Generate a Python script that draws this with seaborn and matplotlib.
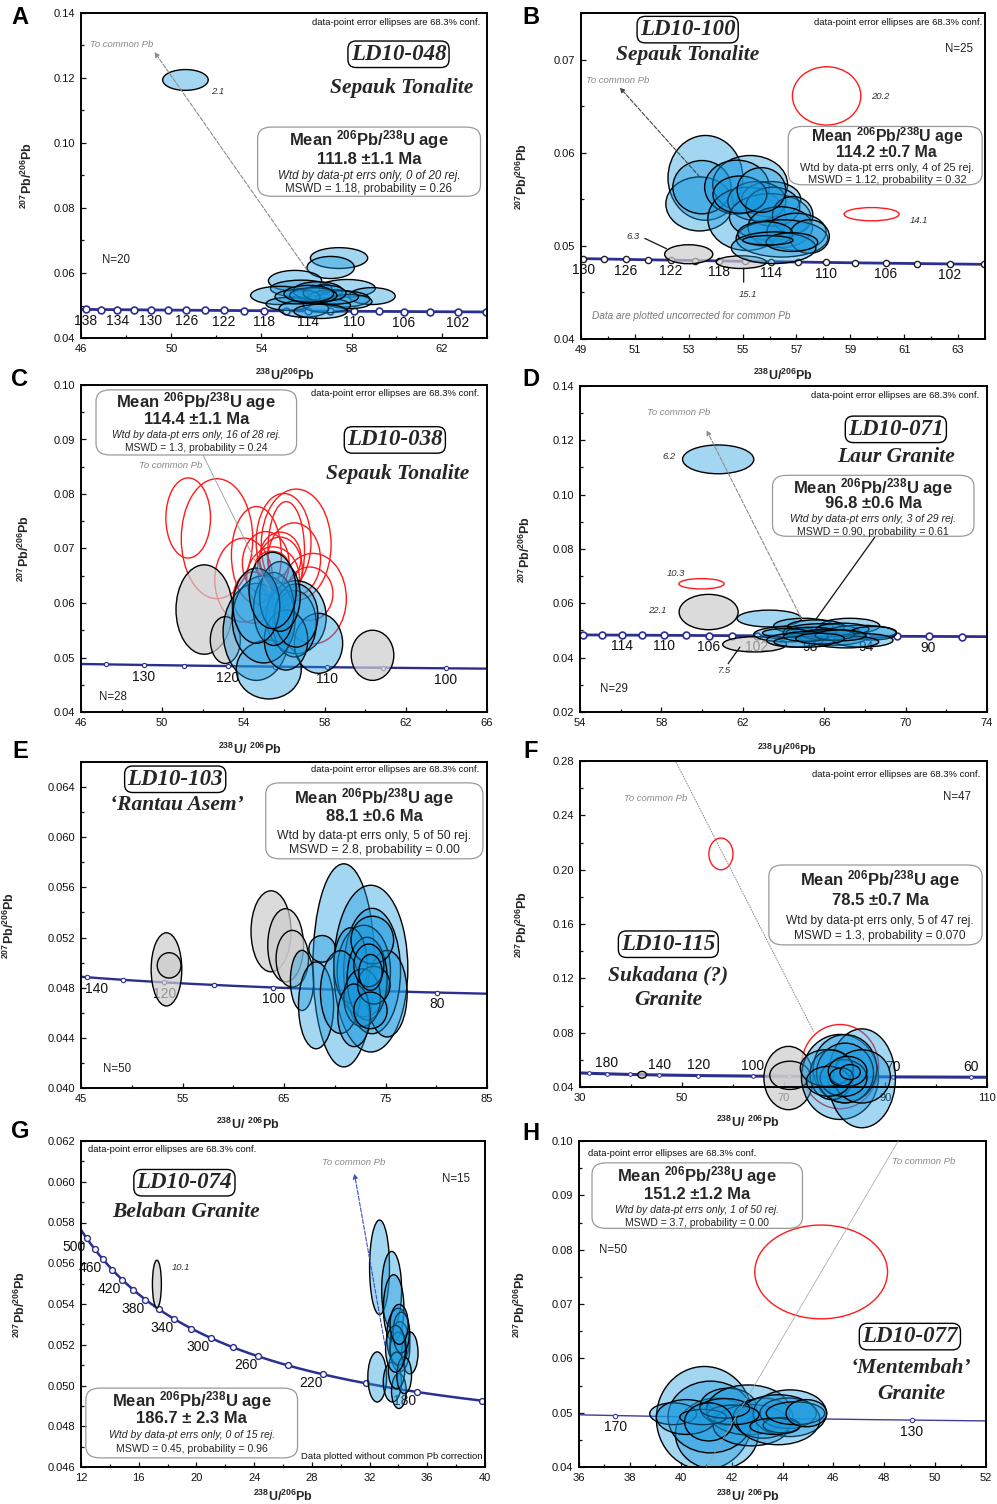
import numpy as np
import matplotlib
matplotlib.use("Agg")
import matplotlib.pyplot as plt
import seaborn as sns
from matplotlib.patches import Ellipse, FancyBboxPatch
from matplotlib.ticker import FixedLocator, FormatStrFormatter

sns.set_theme(style="ticks")
plt.rcParams["font.family"] = ["Liberation Sans", "DejaVu Sans"]
plt.rcParams["mathtext.fontset"] = "custom"
plt.rcParams["mathtext.rm"] = "Liberation Sans"
plt.rcParams["mathtext.bf"] = "Liberation Sans:bold"
plt.rcParams["mathtext.it"] = "Liberation Sans:italic"
plt.rcParams["axes.linewidth"] = 1.3

# ------------------------------------------------------------------ data
# kind: b = accepted (blue), g = rejected (grey), r = rejected (red outline)
A_kind = list("bbbbbbbbbbbbbbbbbbbb")
A_cx = [50.63, 57.44, 57.07, 55.49, 57.80, 55.76, 54.81, 58.90, 56.50, 57.60,
        55.20, 57.90, 56.90, 55.88, 56.62, 57.20, 55.60, 56.80, 56.30, 56.10]
A_cy = [0.1194, 0.0646, 0.0617, 0.0576, 0.0553, 0.0552, 0.0531, 0.0529, 0.0545, 0.0520,
        0.0505, 0.0512, 0.0500, 0.0490, 0.0482, 0.0526, 0.0527, 0.0538, 0.0531, 0.0536]
A_ex = [1.01, 1.27, 1.05, 1.18, 1.25, 1.36, 1.29, 1.03, 1.10, 1.20,
        1.00, 1.00, 1.05, 1.10, 1.18, 1.10, 1.00, 0.95, 1.05, 1.10]
A_ey = [0.0032, 0.0032, 0.0034, 0.0032, 0.0027, 0.0026, 0.0028, 0.0026, 0.0028, 0.0025,
        0.0020, 0.0022, 0.0022, 0.0026, 0.0022, 0.0022, 0.0022, 0.0025, 0.0024, 0.0026]

B_kind = list("rrgg") + list("b" * 21)
B_cx = [58.12, 59.79, 53.00, 54.95,
        53.62, 53.40, 53.49, 55.28, 54.79, 55.16, 56.06, 55.53, 56.02, 56.12, 56.86,
        54.90, 56.40, 55.70, 57.00, 56.46, 57.48, 55.84, 56.15, 56.83, 55.94]
B_cy = [0.0661, 0.0534, 0.0491, 0.04825,
        0.0573, 0.0545, 0.0563, 0.0566, 0.0563, 0.0529, 0.0550, 0.0548, 0.0531, 0.0542, 0.0533,
        0.0555, 0.0520, 0.0560, 0.0515, 0.0508, 0.0510, 0.0513, 0.0498, 0.0504, 0.0506]
B_ex = [1.27, 1.02, 0.895, 0.93,
        1.39, 1.25, 1.08, 1.39, 1.20, 1.45, 1.10, 1.08, 1.51, 1.00, 0.75,
        1.00, 1.20, 0.90, 1.10, 1.70, 0.74, 1.02, 1.57, 0.96, 0.93]
B_ey = [0.00313, 0.00071, 0.00102, 0.00068,
        0.00455, 0.0029, 0.00286, 0.0031, 0.0029, 0.0034, 0.0019, 0.0021, 0.0025, 0.0021, 0.0020,
        0.0020, 0.0022, 0.0024, 0.0020, 0.0020, 0.0018, 0.0013, 0.0017, 0.0010, 0.0005]

C_kind = list("r" * 16) + list("ggg") + list("b" * 12)
C_cx = [51.28, 52.70, 54.02, 54.64, 55.98, 56.60, 56.11, 55.82, 55.80, 57.43, 57.26, 54.48,
        55.46, 55.10, 56.50, 55.40,
        52.07, 53.11, 60.36,
        54.64, 55.25, 56.60, 57.70, 56.52, 55.00, 56.10, 56.60, 55.50, 55.80, 54.64, 55.44]
C_cy = [0.0756, 0.0718, 0.0642, 0.0688, 0.0712, 0.0707, 0.0696, 0.0683, 0.0663, 0.0608, 0.0617, 0.0610,
        0.0645, 0.0673, 0.0680, 0.0670,
        0.0588, 0.0532, 0.0504,
        0.0547, 0.0478, 0.0574, 0.0526, 0.0562, 0.0570, 0.0532, 0.0577, 0.0589, 0.0612, 0.0595, 0.0623]
C_ex = [1.10, 1.76, 1.43, 1.23, 1.35, 1.72, 0.90, 1.02, 1.10, 1.64, 1.15, 0.98,
        1.30, 1.15, 1.30, 0.82,
        1.39, 0.74, 1.05,
        1.64, 1.60, 1.48, 1.19, 1.07, 1.55, 1.07, 1.07, 1.00, 1.00, 1.15, 1.16]
C_ey = [0.00735, 0.0110, 0.0077, 0.0089, 0.0089, 0.0102, 0.0090, 0.0047, 0.0058, 0.0083, 0.0049, 0.0047,
        0.0058, 0.0058, 0.0067, 0.0025,
        0.0082, 0.0043, 0.0046,
        0.0089, 0.0054, 0.0067, 0.0055, 0.0061, 0.0080, 0.0055, 0.0058, 0.0067, 0.0064, 0.0069, 0.0070]

D_kind = list("rgg") + list("b" * 21)
D_cx = [59.97, 60.32, 62.58,
        60.79, 63.30, 64.98, 67.26, 65.60, 64.16, 65.87, 67.83, 66.90, 68.40, 65.37,
        64.12, 66.44, 67.91, 64.56, 67.08, 65.00, 66.20, 65.10, 66.80, 65.80]
D_cy = [0.0672, 0.0568, 0.0449,
        0.1130, 0.0544, 0.0517, 0.0517, 0.0514, 0.0486, 0.0494, 0.0494, 0.0505, 0.0490, 0.0494,
        0.0491, 0.0474, 0.0464, 0.0464, 0.0458, 0.0458, 0.0485, 0.0478, 0.0482, 0.0470]
D_ex = [1.11, 1.45, 1.57,
        1.75, 1.58, 1.46, 1.47, 1.40, 1.62, 1.88, 1.72, 1.30, 1.15, 1.23,
        1.15, 1.64, 1.47, 1.39, 1.60, 1.47, 1.30, 1.10, 1.25, 1.20]
D_ey = [0.0019, 0.0065, 0.0028,
        0.0053, 0.0031, 0.0028, 0.0028, 0.0025, 0.0028, 0.0031, 0.0025, 0.0022, 0.0025, 0.0018,
        0.0016, 0.0028, 0.0025, 0.0025, 0.0022, 0.0020, 0.0020, 0.0018, 0.0020, 0.0020]

E_kind = list("ggggg") + list("b" * 18)
E_cx = [53.42, 53.68, 63.72, 65.16, 65.82,
        66.78, 70.89, 73.55, 68.16, 68.75, 73.68, 72.86, 71.55, 70.56, 75.16, 73.19,
        72.70, 71.90, 73.70, 73.85, 73.36, 73.52, 73.52]
E_cy = [0.04946, 0.04978, 0.05250, 0.05138, 0.05031,
        0.04858, 0.04978, 0.04952, 0.04659, 0.05110, 0.04933, 0.04933, 0.04978, 0.04765, 0.04752, 0.04872,
        0.04720, 0.04580, 0.05180, 0.04820, 0.04978, 0.04922, 0.04619]
E_ex = [1.51, 1.17, 1.97, 1.76, 1.60,
        1.15, 3.04, 3.65, 1.73, 1.30, 2.80, 2.63, 1.64, 1.97, 1.97, 1.97,
        1.80, 1.60, 2.10, 1.60, 1.48, 1.15, 1.64]
E_ey = [0.00292, 0.00101, 0.00323, 0.00292, 0.00226,
        0.00240, 0.00810, 0.00665, 0.00346, 0.00106, 0.00500, 0.00365, 0.00300, 0.00330, 0.00345, 0.00330,
        0.00230, 0.00250, 0.00190, 0.00150, 0.00170, 0.00143, 0.00146]

F_kind = list("rrggg") + list("b" * 12)
F_cx = [57.70, 81.10, 42.20, 70.99, 71.25,
        81.10, 85.40, 82.10, 79.50, 82.10, 85.40, 81.80, 78.50, 78.80, 82.60, 81.40, 83.10]
F_cy = [0.2116, 0.0550, 0.0490, 0.0466, 0.0486,
        0.0474, 0.0464, 0.0535, 0.0491, 0.0503, 0.0478, 0.0466, 0.0540, 0.0442, 0.0515, 0.0474, 0.0510]
F_ex = [2.37, 7.60, 0.85, 4.84, 3.95,
        7.57, 6.60, 6.25, 4.30, 5.60, 5.60, 4.60, 5.20, 4.30, 3.80, 2.30, 2.00]
F_ey = [0.01165, 0.0310, 0.0025, 0.0233, 0.0104,
        0.0313, 0.0364, 0.0251, 0.0184, 0.0220, 0.0196, 0.0135, 0.0135, 0.0110, 0.0110, 0.0067, 0.0055]

G_kind = list("g") + list("b" * 15)
G_cx = [17.26, 32.69, 33.53, 33.67, 33.99, 34.10, 34.79, 32.53, 33.58, 33.99, 34.03,
        33.87, 34.20, 34.40, 33.80, 34.05]
G_cy = [0.05498, 0.05580, 0.05470, 0.05380, 0.05240, 0.05190, 0.05160, 0.05042, 0.05017, 0.05180, 0.04973,
        0.05074, 0.05260, 0.05050, 0.05180, 0.05300]
G_ex = [0.31, 0.69, 0.69, 0.71, 0.80, 0.69, 0.57, 0.65, 0.63, 0.57, 0.51,
        0.57, 0.57, 0.51, 0.69, 0.63]
G_ey = [0.00117, 0.00232, 0.00188, 0.00164, 0.00139, 0.00123, 0.00103, 0.00123, 0.00098, 0.00082, 0.00086,
        0.00090, 0.00100, 0.00090, 0.00115, 0.00098]

H_kind = list("r") + list("b" * 20)
H_cx = [45.52, 40.93, 41.42, 41.17, 39.70, 40.22, 41.86, 42.65, 42.78, 43.24, 44.29,
        44.22, 43.83, 43.96, 43.70, 42.06, 40.88, 41.73, 44.51, 41.10, 44.94]
H_cy = [0.0759, 0.0490, 0.0461, 0.0492, 0.0498, 0.0492, 0.0511, 0.0505, 0.0477, 0.0490, 0.0499,
        0.0499, 0.0487, 0.0477, 0.0475, 0.0496, 0.0492, 0.0508, 0.0499, 0.0483, 0.0499]
H_ex = [2.61, 1.89, 1.63, 1.67, 0.92, 1.18, 1.11, 1.64, 1.51, 1.18, 1.44,
        1.11, 1.64, 0.72, 0.98, 1.02, 0.92, 0.98, 1.15, 0.95, 0.80]
H_ey = [0.00863, 0.0095, 0.0066, 0.0066, 0.0020, 0.0032, 0.0034, 0.0046, 0.0038, 0.0037, 0.0043,
        0.0028, 0.0046, 0.0014, 0.0015, 0.0018, 0.0014, 0.0018, 0.0021, 0.0035, 0.0025]

# concordia marker ages and labelled ages (Ma)
A_ages = list(range(100, 139, 2));  A_lab = [102, 106, 110, 114, 118, 122, 126, 130, 134, 138]
B_ages = list(range(100, 131, 2));  B_lab = [102, 106, 110, 114, 118, 122, 126, 130]
C_ages = [100, 105, 110, 115, 120, 125, 130, 135];  C_lab = [100, 110, 120, 130]
D_ages = list(range(88, 119, 2));   D_lab = [90, 94, 98, 102, 106, 110, 114]
E_ages = [80, 90, 100, 110, 120, 130, 140];  E_lab = [80, 100, 120, 140]
F_ages = [60, 70, 80, 90, 100, 120, 140, 160, 180, 200];  F_lab = [60, 70, 100, 120, 140, 180]
G_ages = list(range(160, 501, 20)); G_lab = [180, 220, 260, 300, 340, 380, 420, 460, 500]
H_ages = [130, 150, 170];  H_lab = [130, 170]

# texts
A_name, A_sub = "LD10-048", ["Sepauk Tonalite"]
B_name, B_sub = "LD10-100", ["Sepauk Tonalite"]
C_name, C_sub = "LD10-038", ["Sepauk Tonalite"]
D_name, D_sub = "LD10-071", ["Laur Granite"]
E_name, E_sub = "LD10-103", ["\u2018Rantau Asem\u2019"]
F_name, F_sub = "LD10-115", ["Sukadana (?)", "Granite"]
G_name, G_sub = "LD10-074", ["Belaban Granite"]
H_name, H_sub = "LD10-077", ["\u2018Mentembah\u2019", "Granite"]

A_mean = ["111.8 \u00b11.1 Ma", "Wtd by data-pt errs only, 0 of 20 rej.", "MSWD = 1.18, probability = 0.26"]
B_mean = ["114.2 \u00b10.7 Ma", "Wtd by data-pt errs only, 4 of 25 rej.", "MSWD = 1.12, probability = 0.32"]
C_mean = ["114.4 \u00b11.1 Ma", "Wtd by data-pt errs only, 16 of 28 rej.", "MSWD = 1.3, probability = 0.24"]
D_mean = ["96.8 \u00b10.6 Ma", "Wtd by data-pt errs only, 3 of 29 rej.", "MSWD = 0.90, probability = 0.61"]
E_mean = ["88.1 \u00b10.6 Ma", "Wtd by data-pt errs only, 5 of 50 rej.", "MSWD = 2.8, probability = 0.00"]
F_mean = ["78.5 \u00b10.7 Ma", "Wtd by data-pt errs only, 5 of 47 rej.", "MSWD = 1.3, probability = 0.070"]
G_mean = ["186.7 \u00b1 2.3 Ma", "Wtd by data-pt errs only, 0 of 15 rej.", "MSWD = 0.45, probability = 0.96"]
H_mean = ["151.2 \u00b11.2 Ma", "Wtd by data-pt errs only, 1 of 50 rej.", "MSWD = 3.7, probability = 0.00"]
N_text = {"A": "N=20", "B": "N=25", "C": "N=28", "D": "N=29", "E": "N=50", "F": "N=47", "G": "N=15", "H": "N=50"}

# ------------------------------------------------------------------ concordia
L238, L235, U85 = 1.55125e-10, 9.8485e-10, 137.88


def tw(t_ma):
    t = np.asarray(t_ma, dtype=float) * 1e6
    e8 = np.expm1(L238 * t)
    e5 = np.expm1(L235 * t)
    return 1.0 / e8, e5 / e8 / U85


# ------------------------------------------------------------------ figure
W, Hpx = 997, 1504
fig = plt.figure(figsize=(W / 100, Hpx / 100), dpi=100)
fig.patch.set_facecolor("white")

BLUE = (0.10, 0.60, 0.87, 0.40)
GREY = (0.80, 0.80, 0.80, 0.70)
NAVY = "#2b2f8f"

cfg = {
    "A": dict(rect=(81, 13, 487, 338), xlim=(46, 64), ylim=(0.04, 0.14),
              xt=[46, 50, 54, 58, 62], xm=2, yt=[0.04, 0.06, 0.08, 0.10, 0.12, 0.14], ym=0.01, yf="%.2f",
              data=(A_kind, A_cx, A_cy, A_ex, A_ey), ages=A_ages, lab=A_lab, loff=(0, -8),
              ccol=NAVY, clw=2.0, ms=24, mlw=1.2, name=A_name, sub=A_sub, mean=A_mean, small=8.3, mit=True,
              dp=(0.984, 0.972, "right"), title=(0.782, 0.873), subs=[(0.790, 0.770)],
              box=(0.435, 0.436, 0.984, 0.649), mx=0.709, my=[0.610, 0.549, 0.498, 0.457],
              n=(0.051, 0.241, "left"), tcp=(0.022, 0.904, "left"),
              notes=[("2.1", 0.336, 0.760)], xlab=r"$\mathbf{{}^{238}U/{}^{206}Pb}$",
              xlc=(0.502, -0.092), ylc=-0.113),
    "B": dict(rect=(581, 13, 985, 339), xlim=(49, 64), ylim=(0.04, 0.075),
              xt=[49, 51, 53, 55, 57, 59, 61, 63], xm=1, yt=[0.04, 0.05, 0.06, 0.07], ym=0.005, yf="%.2f",
              data=(B_kind, B_cx, B_cy, B_ex, B_ey), ages=B_ages, lab=B_lab, loff=(0, -8),
              ccol=NAVY, clw=2.0, ms=20, mlw=1.0, mec="#222222", name=B_name, sub=B_sub, mean=B_mean, small=7.9,
              mit=False, big=11.4,
              dp=(0.993, 0.972, "right"), title=(0.264, 0.949), subs=[(0.264, 0.870)],
              box=(0.513, 0.473, 0.993, 0.652), mx=0.757, my=[0.621, 0.571, 0.524, 0.488],
              n=(0.936, 0.890, "center"), tcp=(0.012, 0.792, "left"),
              notes=[("20.2", 0.740, 0.744), ("14.1", 0.837, 0.365), ("6.3", 0.130, 0.314), ("15.1", 0.412, 0.138)],
              xlab=r"$\mathbf{{}^{238}U/{}^{206}Pb}$", xlc=(0.5, -0.089), ylc=-0.126),
    "C": dict(rect=(81, 385, 487, 712), xlim=(46, 66), ylim=(0.04, 0.10),
              xt=[46, 50, 54, 58, 62, 66], xm=2, yt=[0.04, 0.05, 0.06, 0.07, 0.08, 0.09, 0.10], ym=0.005, yf="%.2f",
              data=(C_kind, C_cx, C_cy, C_ex, C_ey), ages=C_ages, lab=C_lab, loff=(0, -8.5),
              ccol=NAVY, clw=1.7, ms=9, mlw=0.8, name=C_name, sub=C_sub, mean=C_mean, small=7.4, mit=True,
              dp=(0.982, 0.974, "right"), title=(0.773, 0.832), subs=[(0.779, 0.728)],
              box=(0.037, 0.786, 0.531, 0.985), mx=0.284, my=[0.949, 0.893, 0.847, 0.808],
              n=(0.045, 0.046, "left"), tcp=(0.221, 0.755, "center"), notes=[],
              xlab=r"$\mathbf{{}^{238}U/\ {}^{206}Pb}$", xlc=(0.416, -0.092), ylc=-0.12),
    "D": dict(rect=(580, 386, 987, 712), xlim=(54, 74), ylim=(0.02, 0.14),
              xt=[54, 58, 62, 66, 70, 74], xm=2, yt=[0.02, 0.04, 0.06, 0.08, 0.10, 0.12, 0.14], ym=0.01, yf="%.2f",
              data=(D_kind, D_cx, D_cy, D_ex, D_ey), ages=D_ages, lab=D_lab, loff=(0, -8),
              ccol=NAVY, clw=2.0, ms=24, mlw=1.2, name=D_name, sub=D_sub, mean=D_mean, small=7.6, mit=True,
              dp=(0.982, 0.971, "right"), title=(0.776, 0.867), subs=[(0.776, 0.782)],
              box=(0.473, 0.539, 0.968, 0.726), mx=0.720, my=[0.690, 0.639, 0.593, 0.552],
              n=(0.049, 0.070, "left"), tcp=(0.243, 0.918, "center"),
              notes=[("6.2", 0.219, 0.785), ("10.3", 0.236, 0.424), ("22.1", 0.190, 0.312), ("7.5", 0.352, 0.128)],
              xlab=r"$\mathbf{{}^{238}U/{}^{206}Pb}$", xlc=(0.509, -0.095), ylc=-0.115),
    "E": dict(rect=(81, 762, 487, 1088), xlim=(45, 85), ylim=(0.040, 0.066),
              xt=[45, 55, 65, 75, 85], xm=5, yt=[0.040, 0.044, 0.048, 0.052, 0.056, 0.060, 0.064], ym=0.002, yf="%.3f",
              data=(E_kind, E_cx, E_cy, E_ex, E_ey), ages=E_ages, lab=E_lab, loff=(0, -8.5), lshift={140: 7},
              ccol=NAVY, clw=1.7, ms=10, mlw=0.8, name=E_name, sub=E_sub, mean=E_mean, small=8.8, mit=False,
              dp=(0.981, 0.976, "right"), title=(0.232, 0.947), subs=[(0.236, 0.869)],
              box=(0.455, 0.703, 0.990, 0.936), mx=0.722, my=[0.890, 0.833, 0.772, 0.729],
              n=(0.055, 0.057, "left"), tcp=None, notes=[],
              xlab=r"$\mathbf{{}^{238}U/\ {}^{206}Pb}$", xlc=(0.411, -0.089), ylc=-0.158),
    "F": dict(rect=(580, 761, 987, 1087), xlim=(30, 110), ylim=(0.04, 0.28),
              xt=[30, 50, 70, 90, 110], xm=10, yt=[0.04, 0.08, 0.12, 0.16, 0.20, 0.24, 0.28], ym=0.02, yf="%.2f",
              data=(F_kind, F_cx, F_cy, F_ex, F_ey), ages=F_ages, lab=F_lab, loff=(0, 7.5),
              ccol=NAVY, clw=2.2, ms=7, mlw=0.7, name=F_name, sub=F_sub, mean=F_mean, small=8.6, mit=False,
              dp=(0.984, 0.959, "right"), title=(0.217, 0.438), subs=[(0.217, 0.341), (0.217, 0.266)],
              box=(0.464, 0.436, 0.988, 0.681), mx=0.737, my=[0.635, 0.572, 0.508, 0.462],
              n=(0.926, 0.891, "center"), tcp=(0.187, 0.884, "center"), notes=[], noclip=True,
              xlab=r"$\mathbf{{}^{238}U/\ {}^{206}Pb}$", xlc=(0.413, -0.086), ylc=-0.123),
    "G": dict(rect=(81, 1141, 485, 1467), xlim=(12, 40), ylim=(0.046, 0.062),
              xt=[12, 16, 20, 24, 28, 32, 36, 40], xm=2,
              yt=[0.046, 0.048, 0.050, 0.052, 0.054, 0.056, 0.058, 0.060, 0.062], ym=0.001, yf="%.3f",
              data=(G_kind, G_cx, G_cy, G_ex, G_ey), ages=G_ages, lab=G_lab, loff=(-9, -6.5),
              ccol=NAVY, clw=1.8, ms=18, mlw=1.0, name=G_name, sub=G_sub, mean=G_mean, small=7.6, mit=True,
              dp=(0.017, 0.973, "left"), title=(0.256, 0.872), subs=[(0.259, 0.782)],
              box=(0.012, 0.028, 0.536, 0.242), mx=0.274, my=[0.204, 0.150, 0.097, 0.054],
              n=(0.928, 0.884, "center"), tcp=(0.674, 0.933, "center"),
              notes=[("10.1", 0.248, 0.611)], labclip=False,
              xlab=r"$\mathbf{{}^{238}U/{}^{206}Pb}$", xlc=(0.5, -0.068), ylc=-0.131),
    "H": dict(rect=(579, 1141, 986, 1467), xlim=(36, 52), ylim=(0.04, 0.10),
              xt=[36, 38, 40, 42, 44, 46, 48, 50, 52], xm=1, yt=[0.04, 0.05, 0.06, 0.07, 0.08, 0.09, 0.10], ym=0.005,
              yf="%.2f", data=(H_kind, H_cx, H_cy, H_ex, H_ey), ages=H_ages, lab=H_lab, loff=(0, -8.5),
              ccol="#3d3d9c", clw=1.0, ms=10, mlw=0.8, name=H_name, sub=H_sub, mean=H_mean, small=7.5, mit=True,
              dp=(0.022, 0.961, "left"), title=(0.813, 0.400), subs=[(0.816, 0.303), (0.816, 0.223)],
              box=(0.032, 0.732, 0.549, 0.933), mx=0.290, my=[0.895, 0.836, 0.788, 0.749],
              n=(0.049, 0.665, "left"), tcp=(0.846, 0.938, "center"), notes=[],
              xlab=r"$\mathbf{{}^{238}U/\ {}^{206}Pb}$", xlc=(0.415, -0.066), ylc=-0.125),
}

letters_pos = {"A": (20, 18), "B": (531, 18), "C": (20, 379), "D": (531, 379),
               "E": (20, 752), "F": (531, 752), "G": (20, 1132), "H": (531, 1133)}

axes = {}
for key, c in cfg.items():
    l, t, r, b = c["rect"]
    ax = fig.add_axes([l / W, 1 - b / Hpx, (r - l) / W, (b - t) / Hpx])
    axes[key] = ax
    ax.set_facecolor("white")
    ax.set_xlim(*c["xlim"])
    ax.set_ylim(*c["ylim"])

    # concordia curve
    x0, x1 = c["xlim"]
    t_hi = np.log1p(1 / x0) / L238 / 1e6
    t_lo = np.log1p(1 / x1) / L238 / 1e6
    tt = np.linspace(t_lo, t_hi, 400)
    ccx, ccy = tw(tt)
    sns.lineplot(x=ccx, y=ccy, ax=ax, color=c["ccol"], lw=c["clw"], sort=False,
                 estimator=None, zorder=1.5, legend=False)
    mx, my = tw(c["ages"])
    sns.scatterplot(x=mx, y=my, ax=ax, s=c["ms"], color="white", edgecolor=c.get("mec", c["ccol"]),
                    linewidth=c["mlw"], zorder=1.6, legend=False)
    lx, ly = tw(c["lab"])
    shifts = c.get("lshift", {})
    for a, x, y in zip(c["lab"], lx, ly):
        off = (c["loff"][0] + shifts.get(a, 0), c["loff"][1])
        tx = ax.annotate(str(a), (x, y), xytext=off, textcoords="offset points",
                         ha="center", va="center", fontsize=10, color="#111111", zorder=1.7,
                         annotation_clip=False)
        tx.set_clip_on(c.get("labclip", True))

    # ellipses
    kind, ecx, ecy, eex, eey = c["data"]
    order = [i for i, k in enumerate(kind) if k == "r"] + [i for i, k in enumerate(kind) if k == "g"] + \
            [i for i, k in enumerate(kind) if k == "b"]
    z = 2.0
    for i in order:
        k = kind[i]
        if k == "b":
            fc, ec, lw = BLUE, "black", 1.0
        elif k == "g":
            fc, ec, lw = GREY, "black", 1.0
        else:
            fc, ec, lw = "none", "#ff1a1a", 1.0
        e = Ellipse((ecx[i], ecy[i]), 2 * eex[i], 2 * eey[i], facecolor=fc, edgecolor=ec, lw=lw,
                    zorder=z, clip_on=not c.get("noclip", False))
        ax.add_patch(e)
        z += 0.01

    # ticks
    ax.xaxis.set_major_locator(FixedLocator(c["xt"]))
    ax.xaxis.set_minor_locator(FixedLocator(np.arange(c["xlim"][0], c["xlim"][1] + 1e-9, c["xm"])))
    ax.yaxis.set_major_locator(FixedLocator(c["yt"]))
    ax.yaxis.set_minor_locator(FixedLocator(np.arange(c["ylim"][0], c["ylim"][1] + 1e-9, c["ym"])))
    ax.xaxis.set_major_formatter(FormatStrFormatter("%d"))
    ax.yaxis.set_major_formatter(FormatStrFormatter(c["yf"]))
    ax.tick_params(which="both", direction="in", top=False, right=False, labelsize=8,
                   width=0.9, colors="#111111", pad=4)
    ax.tick_params(which="major", length=3.5)
    ax.tick_params(which="minor", length=2)
    for s in ax.spines.values():
        s.set_color("black")
        s.set_linewidth(1.4)
        s.set_visible(True)

    ax.set_xlabel(c["xlab"], fontsize=9)
    ax.set_ylabel(r"$\mathbf{{}^{207}Pb/{}^{206}Pb}$", fontsize=9)
    ax.xaxis.set_label_coords(*c["xlc"])
    ax.yaxis.set_label_coords(c["ylc"], 0.5)

    T = ax.transAxes
    big = c.get("big", 12)
    # data-point note
    ax.text(c["dp"][0], c["dp"][1], "data-point error ellipses are 68.3% conf.", transform=T,
            ha=c["dp"][2], va="center", fontsize=6.8, color="#111111", zorder=6)
    # sample name + locality
    ax.text(c["title"][0], c["title"][1], c["name"], transform=T, ha="center", va="center",
            family="Liberation Serif", weight="bold", style="italic", fontsize=16.5, zorder=6,
            bbox=dict(boxstyle="round,pad=0.12,rounding_size=0.35", fc="white", ec="black", lw=1.0))
    for (sx, sy), s in zip(c["subs"], c["sub"]):
        ax.text(sx, sy, s, transform=T, ha="center", va="center", family="Liberation Serif",
                weight="bold", style="italic", fontsize=15.5, zorder=6)
    # mean-age box
    bx0, by0, bx1, by1 = c["box"]
    ax.add_patch(FancyBboxPatch((bx0, by0), bx1 - bx0, by1 - by0, transform=T,
                                boxstyle="round,pad=0,rounding_size=0.035", fc="none",
                                ec="#9a9a9a", lw=0.9, zorder=5, clip_on=False))
    ax.text(c["mx"], c["my"][0], r"$\mathbf{Mean\ {}^{206}Pb/{}^{238}U\ age}$", transform=T,
            ha="center", va="center", fontsize=big, zorder=6)
    ax.text(c["mx"], c["my"][1], c["mean"][0], transform=T, ha="center", va="center",
            fontsize=big, weight="bold", zorder=6)
    ax.text(c["mx"], c["my"][2], c["mean"][1], transform=T, ha="center", va="center",
            fontsize=c["small"], style="italic" if c["mit"] else "normal", zorder=6)
    ax.text(c["mx"], c["my"][3], c["mean"][2], transform=T, ha="center", va="center",
            fontsize=c["small"], zorder=6)
    # N
    ax.text(c["n"][0], c["n"][1], N_text[key], transform=T, ha=c["n"][2], va="center",
            fontsize=8.3, color="#222222", zorder=6)
    if c["tcp"] is not None:
        ax.text(c["tcp"][0], c["tcp"][1], "To common Pb", transform=T, ha=c["tcp"][2], va="center",
                fontsize=6.8, style="italic", color="#8a8a8a", zorder=6)
    for s, nx, ny in c["notes"]:
        ax.text(nx, ny, s, transform=T, ha="center", va="center", fontsize=6.8,
                style="italic", color="#333333", zorder=6)

    fig.text(letters_pos[key][0] / W, 1 - letters_pos[key][1] / Hpx, key, ha="center", va="center",
             fontsize=17, weight="bold", color="black")


# common-Pb directions and pointer lines
def arrow(ax, start, end, color, ls="--", lw=0.8, head=True):
    ax.annotate("", xy=end, xytext=start,
                arrowprops=dict(arrowstyle="-|>" if head else "-", color=color, lw=lw, ls=ls,
                                shrinkA=0, shrinkB=0, mutation_scale=7), zorder=4)


arrow(axes["A"], (56.03, 0.0608), (49.26, 0.128), "#8c8c8c")
arrow(axes["B"], (53.41, 0.0574), (50.44, 0.0670), "#444444")
arrow(axes["C"], (52.02, 0.0871), (55.3, 0.0623), "#9a9a9a", ls="-", lw=0.6, head=False)
arrow(axes["D"], (64.88, 0.0544), (60.22, 0.1237), "#8c8c8c")
arrow(axes["F"], (48.9, 0.279), (75.9, 0.081), "#8c8c8c", ls=":", lw=0.7, head=False)
arrow(axes["G"], (33.07, 0.05197), (30.95, 0.0604), "#3a4fc4")
arrow(axes["H"], (41.01, 0.040), (48.55, 0.100), "#a0a0a0", ls="-", lw=0.5, head=False)
arrow(axes["B"], (51.37, 0.0508), (52.17, 0.0497), "#111111", ls="-", lw=0.9, head=False)
arrow(axes["B"], (55.04, 0.0476), (55.04, 0.0461), "#111111", ls="-", lw=0.9, head=False)
arrow(axes["D"], (61.28, 0.0378), (61.86, 0.0439), "#111111", ls="-", lw=0.9, head=False)
arrow(axes["D"], (68.49, 0.0844), (65.62, 0.0544), "#111111", ls="-", lw=0.9, head=False)

axes["B"].text(0.027, 0.071, "Data are plotted uncorrected for common Pb", transform=axes["B"].transAxes,
               ha="left", va="center", fontsize=7.2, style="italic", color="#777777")
axes["G"].text(0.994, 0.031, "Data plotted without common Pb correction", transform=axes["G"].transAxes,
               ha="right", va="center", fontsize=6.8, color="#111111", zorder=6)

fig.savefig("out.png", dpi=100, facecolor="white")
